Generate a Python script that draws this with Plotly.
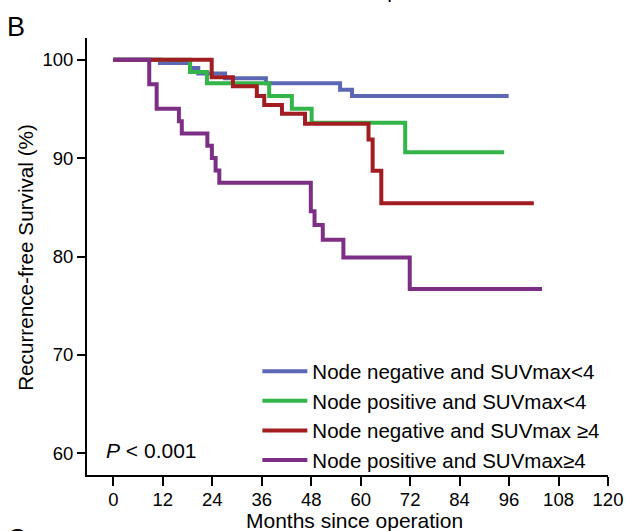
import plotly.graph_objects as go

# Kaplan-Meier step data (months, survival %)
blue_t = [0, 11.3, 18.6, 20.6, 27.1, 37.0, 55.0, 57.9, 95.9]
blue_s = [100, 99.66, 99.15, 98.6, 98.1, 97.6, 96.95, 96.3, 96.3]

green_t = [0, 18.6, 22.7, 37.8, 43.3, 48.1, 70.8, 94.8]
green_s = [100, 98.75, 97.6, 96.3, 95.0, 93.6, 90.6, 90.6]

red_t = [0, 23.85, 29.0, 34.8, 36.6, 40.9, 46.5, 61.9, 62.9, 65.0, 102.0]
red_s = [100, 98.2, 97.3, 96.3, 95.4, 94.5, 93.5, 91.9, 88.7, 85.4, 85.4]

purple_t = [0, 8.7, 10.5, 15.9, 16.6, 22.8, 23.9, 24.8, 25.7, 47.9, 48.8, 50.8,
            55.8, 71.9, 104.0]
purple_s = [100, 97.5, 95.0, 93.75, 92.5, 91.25, 90.0, 88.75, 87.5, 84.6, 83.2,
            81.7, 79.9, 76.7, 76.7]

names = ["Node negative and SUVmax<4", "Node positive and SUVmax<4",
         "Node negative and SUVmax \u22654", "Node positive and SUVmax\u22654"]
colors = ["#5c68b4", "#33b54a", "#a11d22", "#7d2f86"]

x_ticks = list(range(0, 121, 12))
y_ticks = [60, 70, 80, 90, 100]

FONT = "Arial, 'Liberation Sans', sans-serif"
FS_TICK = 18.5
FS_LEG = 20.5
FS_TITLE = 21

fig = go.Figure()
series = [(blue_t, blue_s), (green_t, green_s), (red_t, red_s), (purple_t, purple_s)]
for i, (t, s) in enumerate(series):
    fig.add_trace(go.Scatter(
        x=t, y=s, mode="lines", line=dict(color=colors[i], width=4, shape="hv"),
        name=names[i], showlegend=True,
    ))

fig.update_layout(
    width=625, height=531,
    margin=dict(l=87, r=17, t=38, b=56),
    paper_bgcolor="white", plot_bgcolor="white",
    font=dict(family=FONT, size=FS_TICK, color="black"),
    showlegend=True,
    legend=dict(
        x=0.327, y=0.283, xanchor="left", yanchor="top",
        bgcolor="rgba(0,0,0,0)", font=dict(size=FS_LEG),
        tracegroupgap=0, itemwidth=45,
    ),
    xaxis=dict(
        range=[-6.4, 120], tickmode="array", tickvals=x_ticks,
        ticktext=[str(v) for v in x_ticks], automargin=False,
        ticklabeloverflow="allow",
        showline=True, linecolor="black", linewidth=2, ticks="outside",
        ticklen=9, tickwidth=2, tickcolor="black", showgrid=False, zeroline=False,
        tickfont=dict(size=FS_TICK), ticklabelstandoff=-2,
    ),
    yaxis=dict(
        range=[57.8, 102.2], tickmode="array", tickvals=y_ticks,
        ticktext=[str(v) for v in y_ticks], automargin=False,
        showline=True, linecolor="black", linewidth=2, ticks="outside",
        ticklen=8, tickwidth=2, tickcolor="black", showgrid=False, zeroline=False,
        tickfont=dict(size=FS_TICK),
    ),
    annotations=[
        dict(text="Months since operation", x=0.5125, y=-0.104, xref="paper", yref="paper",
             xanchor="center", yanchor="middle", showarrow=False,
             font=dict(size=FS_TITLE)),
        dict(text="Recurrence-free Survival (%)", x=-0.117, y=0.497, xref="paper",
             yref="paper", xanchor="center", yanchor="middle", textangle=-90,
             showarrow=False, font=dict(size=FS_TITLE - 0.3)),
        dict(text="<i>P</i> < 0.001", x=-2.2, y=60.3, xref="x", yref="y",
             xanchor="left", yanchor="middle", showarrow=False, font=dict(size=21)),
        dict(text="B", x=-0.158, y=1.025, xref="paper", yref="paper",
             xanchor="left", yanchor="middle", showarrow=False, font=dict(size=27)),
        dict(text="Months since operation", x=0.5125, y=1.0, xref="paper", yref="paper",
             xanchor="center", yanchor="bottom", yshift=34, showarrow=False,
             font=dict(size=FS_TITLE)),
        dict(text="C", x=-0.158, y=-0.108, xref="paper", yref="paper",
             xanchor="left", yanchor="top", showarrow=False, font=dict(size=27)),
    ],
)

fig.write_html("out.html")
